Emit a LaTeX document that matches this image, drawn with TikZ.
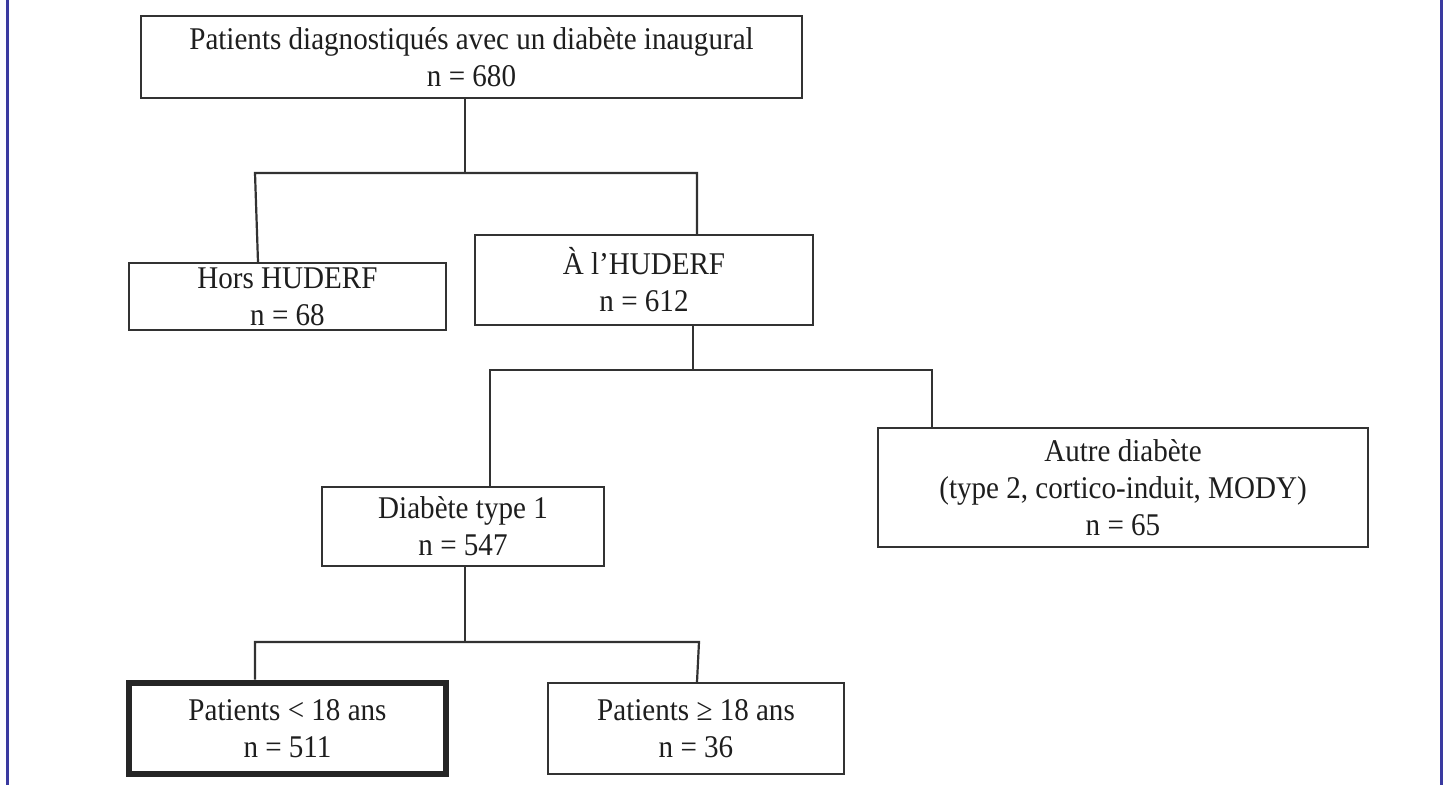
\documentclass[tikz,border=0pt]{standalone}
\usepackage{fontspec}
\setmainfont{Liberation Serif}
\newfontfamily\tallserif[FakeStretch=0.92]{Liberation Serif}
\definecolor{frameblue}{RGB}{58,58,160}
\definecolor{boxline}{RGB}{50,50,50}
\definecolor{txt}{RGB}{30,30,30}
\tikzset{
  box/.style={draw=boxline, line width=1pt, rectangle, align=center, inner sep=0pt,
    text=txt, font=\tallserif\fontsize{15.8pt}{18.5pt}\selectfont},
  thickbox/.style={box, line width=3.3pt, draw=black!85},
  conn/.style={draw=boxline, line width=1.1pt},
  side/.style={draw=frameblue, line width=1.5pt}
}
\begin{document}
\begin{tikzpicture}[x=0.5pt,y=-0.5pt]
\useasboundingbox (0,0) rectangle (1448,785);
\fill[white] (0,0) rectangle (1448,785);
% side rules
\coordinate (bl1) at (7.5,0); \coordinate (bl2) at (7.5,785);
\coordinate (br1) at (1441.5,0); \coordinate (br2) at (1441.5,785);
\draw[side] (bl1) -- (bl2);
\draw[side] (br1) -- (br2);

% nodes
\node[box, minimum width=330.5pt, minimum height=41pt] (top) at (471.5,57)
  {Patients diagnostiqués avec un diabète inaugural\\n = 680};
\node[box, minimum width=158.5pt, minimum height=33.5pt] (hors) at (287.5,296.5)
  {Hors HUDERF\\n = 68};
\node[box, minimum width=169pt, minimum height=45pt] (ah) at (644,280)
  {À l’HUDERF\\n = 612};
\node[box, minimum width=141pt, minimum height=39.5pt] (t1) at (463,526.5)
  {Diabète type 1\\n = 547};
\node[box, minimum width=245pt, minimum height=59.5pt] (autre) at (1123,487.5)
  {Autre diabète\\(type 2, cortico-induit, MODY)\\n = 65};
\node[thickbox, minimum width=158.5pt, minimum height=45.5pt] (lt) at (287.5,728.5)
  {Patients < 18 ans\\n = 511};
\node[box, minimum width=148pt, minimum height=45.5pt] (ge) at (696,728.5)
  {Patients ≥ 18 ans\\n = 36};

% junctions
\coordinate (j1) at (465,173); \coordinate (l1) at (255,173); \coordinate (r1) at (697,173);
\coordinate (l1b) at (258,0);
\coordinate (j2) at (693,370); \coordinate (l2) at (490,370); \coordinate (r2) at (932,370);
\coordinate (j3) at (465,642); \coordinate (l3) at (255,642); \coordinate (r3) at (699,642);
\coordinate (r3b) at (697,0);

\draw[conn] (top.south -| j1) -- (j1);
\draw[conn] (hors.north -| l1b) -- (l1) -- (r1) -- (ah.north -| r1);

\draw[conn] (ah.south -| j2) -- (j2);
\draw[conn] (t1.north -| l2) -- (l2) -- (r2) -- (autre.north -| r2);

\draw[conn] (t1.south -| j3) -- (j3);
\draw[conn] (lt.north -| l3) -- (l3) -- (r3) -- (ge.north -| r3b);
\end{tikzpicture}
\end{document}
